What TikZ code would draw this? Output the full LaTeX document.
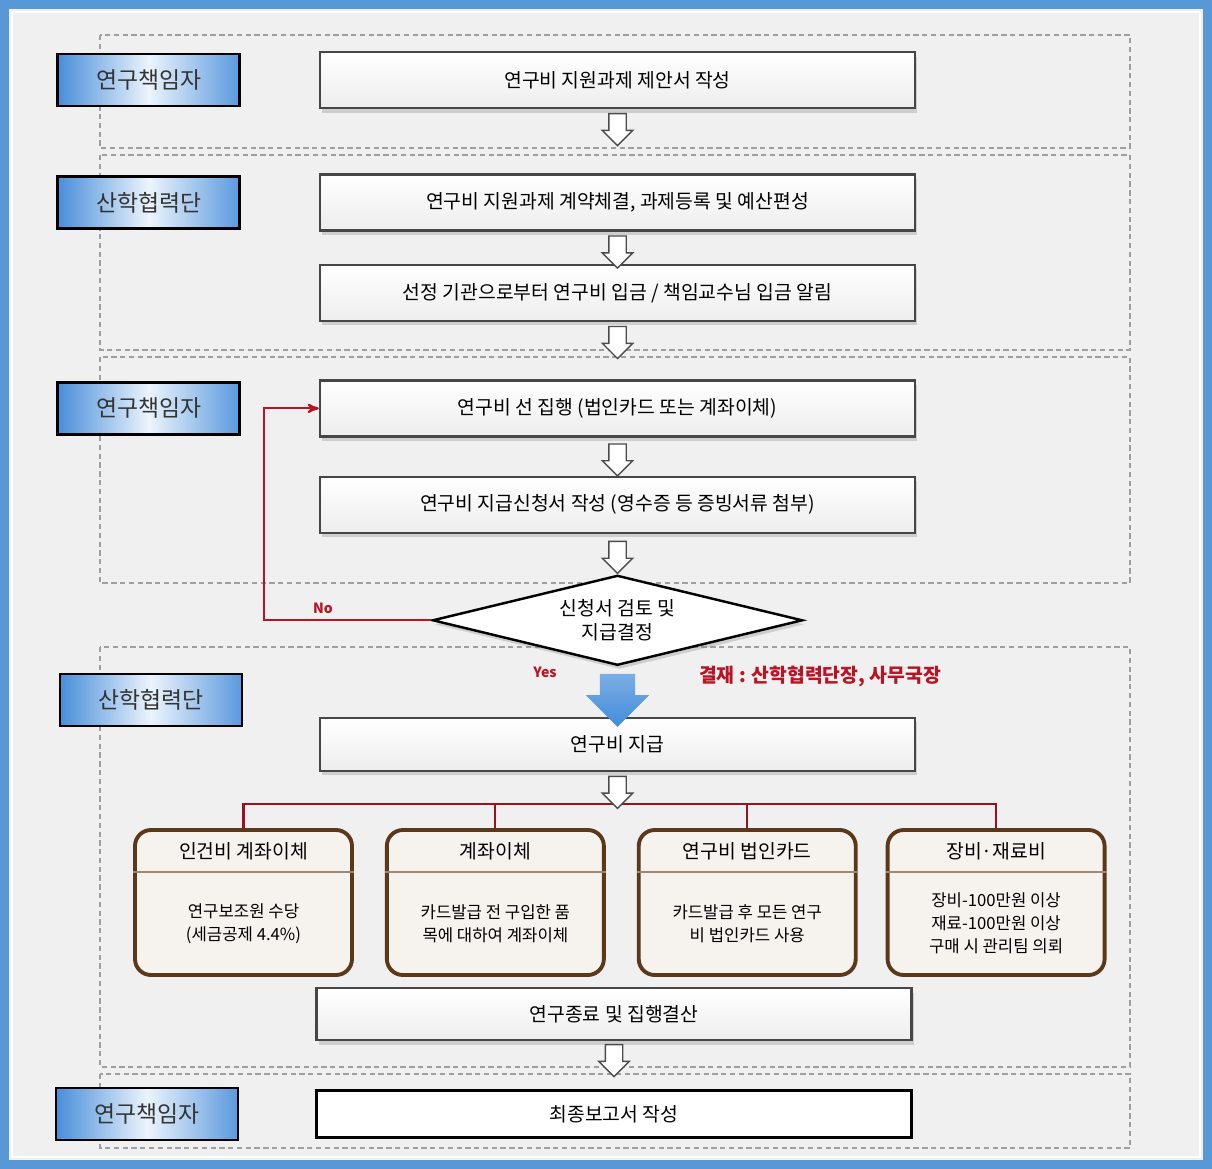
\documentclass[tikz,border=0pt]{standalone}
\usepackage{fontspec}
\setmainfont{Noto Sans CJK KR}
\usepackage{tikz}
\usetikzlibrary{shapes,arrows,positioning,calc,shadows}
\definecolor{framebg}{RGB}{240,240,240}
\definecolor{frameblue}{RGB}{88,152,214}
\definecolor{roleblue}{RGB}{72,142,218}
\definecolor{rolelight}{RGB}{236,244,252}
\definecolor{cardbrown}{RGB}{92,56,26}
\definecolor{cardfill}{RGB}{246,242,238}
\definecolor{flowred}{RGB}{185,20,35}
\definecolor{yesblue}{RGB}{66,140,218}
\tikzset{
  procbox/.style={
    rectangle,
    draw=gray!55!black, line width=1.4pt,
    top color=white, bottom color=gray!14,
    minimum width=11.9cm, minimum height=1.12cm,
    inner sep=0pt,
    font=\fontsize{11}{13}\selectfont,
    drop shadow={shadow xshift=0.04cm, shadow yshift=-0.09cm, opacity=0.3, fill=gray}
  },
  finalbox/.style={
    rectangle,
    draw=black, line width=1.4pt, fill=white,
    minimum width=11.9cm, minimum height=0.94cm,
    font=\fontsize{11}{13}\selectfont
  },
  rolebox/.style={
    rectangle,
    draw=black, line width=1.3pt,
    left color=roleblue, right color=roleblue!90, middle color=rolelight,
    minimum width=3.64cm, minimum height=1.04cm,
    text=black!80,
    font=\fontsize{13}{15}\selectfont
  },
  decision/.style={
    diamond, aspect=4.1,
    draw=black, line width=1.4pt, fill=white,
    minimum width=7.4cm, minimum height=1.8cm, inner sep=0pt,
    font=\fontsize{11}{14}\selectfont,
    drop shadow={shadow xshift=0.04cm, shadow yshift=-0.08cm, opacity=0.3, fill=gray}
  },
  cardbox/.style={
    rectangle, rounded corners=0.32cm,
    draw=cardbrown, line width=2.2pt, fill=cardfill,
    minimum width=4.34cm, minimum height=2.9cm
  },
  cardhead/.style={font=\fontsize{11}{13}\selectfont},
  cardtext/.style={font=\fontsize{9.5}{13}\selectfont},
  cardline/.style={draw=cardbrown!60, line width=1.4pt},
  hollow/.style={
    single arrow, shape border rotate=270,
    draw=gray!60!black, fill=white, line width=0.8pt,
    minimum height=0.64cm, inner sep=0.16cm,
    single arrow head extend=0.13cm
  },
  yesarrow/.style={
    single arrow, shape border rotate=270,
    top color=yesblue!70, bottom color=yesblue, draw=none,
    minimum height=1.06cm, inner sep=0.34cm,
    single arrow head extend=0.28cm
  },
  lane/.style={draw=gray!75, line width=0.8pt, dash pattern=on 3pt off 2pt},
  noline/.style={draw=flowred, line width=1.2pt},
  busline/.style={draw=flowred!85!black, line width=1.2pt},
  flowlabel/.style={text=flowred, font=\bfseries\fontsize{8}{10}\selectfont},
}
\begin{document}
\begin{tikzpicture}[>=stealth',thick,every text node part/.style={align=center}]

\useasboundingbox (0,0) rectangle (24.24,-23.38);
\draw[line width=0.18cm, draw=frameblue, fill=framebg] (0.09,-0.09) rectangle (24.15,-23.29);
\draw[white, line width=0.05cm] (0.24,-0.24) rectangle (24.0,-23.14);

% lanes
\draw[lane] (2.0,-0.7) rectangle (22.6,-2.96);
\draw[lane] (2.0,-3.1) rectangle (22.6,-7.0);
\draw[lane] (2.0,-7.14) rectangle (22.6,-11.66);
\draw[lane] (2.0,-12.94) rectangle (22.6,-21.34);
\draw[lane] (2.0,-21.48) rectangle (22.6,-22.96);

% main flow
\node[procbox] (PROPOSAL) at (12.35,-1.6) {연구비 지원과제 제안서 작성};
\node[procbox, below=1.28cm of PROPOSAL] (CONTRACT) {연구비 지원과제 계약체결, 과제등록 및 예산편성};
\node[procbox, below=0.64cm of CONTRACT] (DEPOSIT) {선정 기관으로부터 연구비 입금 / 책임교수님 입금 알림};
\node[procbox, below=1.14cm of DEPOSIT] (PREEXEC) {연구비 선 집행 (법인카드 또는 계좌이체)};
\node[procbox, below=0.76cm of PREEXEC] (REQUEST) {연구비 지급신청서 작성 (영수증 등 증빙서류 첨부)};
\node[decision, below=0.8cm of REQUEST] (REVIEW) {신청서 검토 및\\지급결정};
\node[procbox, below=1.0cm of REVIEW, minimum height=1.06cm] (PAY) {연구비 지급};

\node[rolebox, left=1.56cm of PROPOSAL] (ROLE1) {연구책임자};
\node[rolebox, left=1.56cm of CONTRACT] (ROLE2) {산학협력단};
\node[rolebox, left=1.56cm of PREEXEC] (ROLE3) {연구책임자};
\node[rolebox] (ROLE4) at (3.02,-14.0) {산학협력단};

\node[hollow] (ARR1) at ($(PROPOSAL.south)+(0,-0.32)$) {};
\node[hollow] (ARR2) at ($(CONTRACT.south)+(0,-0.32)$) {};
\node[hollow] (ARR3) at ($(DEPOSIT.south)+(0,-0.32)$) {};
\node[hollow] (ARR4) at ($(PREEXEC.south)+(0,-0.36)$) {};
\node[hollow] (ARR5) at ($(REQUEST.south)+(0,-0.38)$) {};
\node[yesarrow] (YESARR) at ($(REVIEW.south)!0.5!(PAY.north)$) {};

\coordinate[left=1.1cm of PREEXEC.west] (NOTURN);
\draw[noline,->] (REVIEW.west) -| (NOTURN) -- (PREEXEC.west);
\node[flowlabel] (NO) at (6.46,-12.16) {No};
\node[flowlabel] (YES) at (10.9,-13.44) {Yes};
\node[text=flowred, font=\bfseries\fontsize{11}{13}\selectfont] (APPROVE) at (16.4,-13.52) {결재 : 산학협력단장, 사무국장};

% expense types
\node[cardbox] (CARD1) at (4.87,-18.05) {};
\node[cardbox, right=0.62cm of CARD1] (CARD2) {};
\node[cardbox, right=0.62cm of CARD2] (CARD3) {};
\node[cardbox, right=0.56cm of CARD3] (CARD4) {};

\node[cardhead] (CARD1HEAD) at ($(CARD1.center)+(0,1.03)$) {인건비 계좌이체};
\node[cardhead] (CARD2HEAD) at ($(CARD2.center)+(0,1.03)$) {계좌이체};
\node[cardhead] (CARD3HEAD) at ($(CARD3.center)+(0,1.03)$) {연구비 법인카드};
\node[cardhead] (CARD4HEAD) at ($(CARD4.center)+(0,1.03)$) {장비·재료비};
\draw[cardline] ($(CARD1.west)+(0,0.61)$) -- ($(CARD1.east)+(0,0.61)$);
\draw[cardline] ($(CARD2.west)+(0,0.61)$) -- ($(CARD2.east)+(0,0.61)$);
\draw[cardline] ($(CARD3.west)+(0,0.61)$) -- ($(CARD3.east)+(0,0.61)$);
\draw[cardline] ($(CARD4.west)+(0,0.61)$) -- ($(CARD4.east)+(0,0.61)$);
\node[cardtext] (CARD1BODY) at ($(CARD1.center)+(0,-0.42)$) {연구보조원 수당\\(세금공제 4.4\%)};
\node[cardtext] (CARD2BODY) at ($(CARD2.center)+(0,-0.42)$) {카드발급 전 구입한 품\\목에 대하여 계좌이체};
\node[cardtext] (CARD3BODY) at ($(CARD3.center)+(0,-0.42)$) {카드발급 후 모든 연구\\비 법인카드 사용};
\node[cardtext] (CARD4BODY) at ($(CARD4.center)+(0,-0.42)$) {장비-100만원 이상\\재료-100만원 이상\\구매 시 관리팀 의뢰};

\coordinate (BUS) at ($(PAY.south)+(0,-0.64)$);
\draw[busline] (CARD1.north) |- (BUS) -| (CARD4.north);
\draw[busline] (CARD2.north) -- (CARD2.north |- BUS);
\draw[busline] (CARD3.north) -- (CARD3.north |- BUS);
\node[hollow] (ARR6) at ($(PAY.south)+(0,-0.32)$) {};

\node[procbox, minimum height=1.04cm] (SETTLE) at (12.28,-20.28) {연구종료 및 집행결산};
\node[finalbox, below=0.96cm of SETTLE] (REPORT) {최종보고서 작성};
\node[rolebox, left=1.52cm of REPORT] (ROLE5) {연구책임자};
\node[hollow] (ARR7) at ($(SETTLE.south)+(0,-0.3)$) {};

\end{tikzpicture}
\end{document}
